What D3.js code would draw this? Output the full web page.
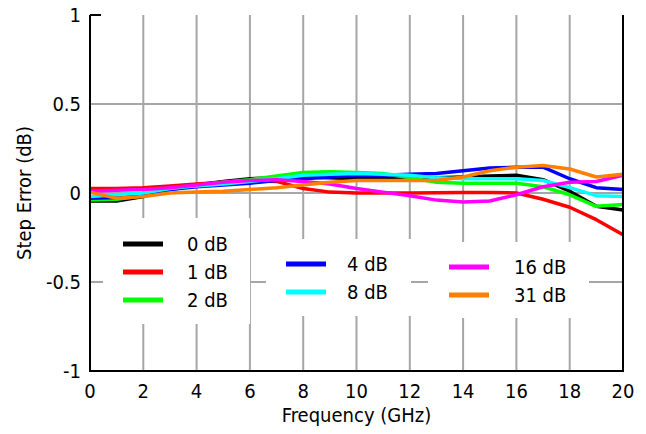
<!DOCTYPE html>
<html>
<head>
<meta charset="utf-8">
<script src="https://cdn.jsdelivr.net/npm/d3@7"></script>
<style>
  body { margin: 0; background: #fff; }
  svg { display: block; }
  text { font-family: 'DejaVu Sans Condensed', 'DejaVu Sans', sans-serif; fill: #000; }
</style>
</head>
<body>
<svg id="chart" width="646" height="434"></svg>
<script>
// frequency grid (GHz)
const freq = d3.range(0, 21, 1)

// step error (dB) per attenuation state
const err0  = [-0.045,-0.045,-0.02,0.02,0.045,0.065,0.08,0.085,0.09,0.085,0.08,0.08,0.08,0.085,0.09,0.095,0.1,0.075,0.01,-0.075,-0.095]
const err1  = [0.025,0.025,0.03,0.04,0.05,0.06,0.07,0.065,0.025,0.005,0.0,0.0,0.0,0.002,0.003,0.003,0.0,-0.035,-0.08,-0.15,-0.235]
const err2  = [-0.04,-0.035,-0.015,0.02,0.04,0.06,0.075,0.095,0.115,0.12,0.115,0.11,0.085,0.06,0.055,0.055,0.055,0.035,-0.01,-0.075,-0.065]
const err4  = [-0.03,-0.025,-0.005,0.02,0.035,0.045,0.055,0.07,0.08,0.09,0.1,0.1,0.105,0.11,0.125,0.14,0.145,0.145,0.08,0.03,0.02]
const err8  = [-0.02,-0.01,0.0,0.025,0.04,0.05,0.065,0.08,0.1,0.105,0.11,0.105,0.1,0.085,0.08,0.08,0.08,0.07,0.03,-0.015,-0.02]
const err16 = [0.01,0.015,0.02,0.03,0.045,0.06,0.07,0.075,0.065,0.05,0.025,0.005,-0.015,-0.04,-0.05,-0.045,-0.01,0.035,0.06,0.065,0.1]
const err31 = [0.005,-0.03,-0.02,0.0,0.005,0.01,0.02,0.03,0.045,0.06,0.07,0.07,0.07,0.07,0.09,0.125,0.145,0.155,0.135,0.09,0.105]

const seriesNames = ['0 dB', '1 dB', '2 dB', '4 dB', '8 dB', '16 dB', '31 dB']
const seriesVals = [err0, err1, err2, err4, err8, err16, err31]
const seriesColors = ['#000000', '#ff0000', '#00ff00', '#0000ff', '#00ffff', '#ff00ff', '#ff8000']

const xTicks = d3.range(0, 21, 2)
const yTicks = [-1, -0.5, 0, 0.5, 1]

// legend groups: which series go in which box
const legendGroups = [[0, 1, 2], [3, 4], [5, 6]]

const svg = d3.select('#chart')
const margin = { top: 15, left: 90, right: 23, bottom: 63 }
const width = 646, height = 434
const innerWidth = width - margin.left - margin.right
const innerHeight = height - margin.top - margin.bottom

const xScale = d3.scaleLinear().domain([0, 20]).range([0, innerWidth])
const yScale = d3.scaleLinear().domain([-1, 1]).range([innerHeight, 0])

const g = svg.append('g').attr('transform', `translate(${margin.left},${margin.top})`)

// grid lines
g.append('g').selectAll('line.vg')
  .data(xTicks.filter(t => t > 0 && t < 20))
  .enter().append('line')
  .attr('x1', d => xScale(d)).attr('x2', d => xScale(d))
  .attr('y1', 0).attr('y2', innerHeight)
  .style('stroke', '#a6a6a6').style('stroke-width', 2)

g.append('g').selectAll('line.hg')
  .data(yTicks.filter(t => t > -1 && t < 1))
  .enter().append('line')
  .attr('x1', 0).attr('x2', innerWidth)
  .attr('y1', d => yScale(d)).attr('y2', d => yScale(d))
  .style('stroke', '#a6a6a6').style('stroke-width', 2)

// curves
const line = d3.line()
  .x((d, i) => xScale(freq[i]))
  .y(d => yScale(d))

const drawOrder = [0, 1, 2, 3, 4, 5, 6]
g.append('g').selectAll('path')
  .data(drawOrder)
  .enter().append('path')
  .attr('d', i => line(seriesVals[i]))
  .style('fill', 'none')
  .style('stroke', i => seriesColors[i])
  .style('stroke-width', 3.5)
  .style('stroke-linejoin', 'round')

// legend boxes (white, hide the grid)
const legendBoxes = [
  { x: 13, y: 203, w: 147, h: 106, ly: 229, lx: 33, tx: 97 },
  { x: 176, y: 224, w: 145, h: 77, ly: 249, lx: 196, tx: 257 },
  { x: 338, y: 227, w: 161, h: 76, ly: 252, lx: 359, tx: 424 }
]

legendGroups.forEach((grp, gi) => {
  const b = legendBoxes[gi]
  const lg = g.append('g')
  lg.append('rect')
    .attr('x', b.x).attr('y', b.y).attr('width', b.w).attr('height', b.h)
    .style('fill', '#fff')
  grp.forEach((si, k) => {
    const yy = b.ly + k * 28
    lg.append('line')
      .attr('x1', b.lx).attr('x2', b.lx + 40)
      .attr('y1', yy).attr('y2', yy)
      .style('stroke', seriesColors[si]).style('stroke-width', 5)
    lg.append('text')
      .attr('x', b.tx).attr('y', yy)
      .attr('dy', '0.36em')
      .style('font-size', '20px')
      .text(seriesNames[si])
  })
})

// frame: left, bottom, right
g.append('line').attr('x1', 0).attr('x2', 0).attr('y1', 0).attr('y2', innerHeight)
  .style('stroke', '#000').style('stroke-width', 2)
g.append('line').attr('x1', -1).attr('x2', innerWidth + 1).attr('y1', innerHeight).attr('y2', innerHeight)
  .style('stroke', '#000').style('stroke-width', 2)
g.append('line').attr('x1', innerWidth).attr('x2', innerWidth).attr('y1', 0).attr('y2', innerHeight)
  .style('stroke', '#000').style('stroke-width', 2)

// end ticks
g.append('line').attr('x1', 0).attr('x2', 11).attr('y1', yScale(1)).attr('y2', yScale(1))
  .style('stroke', '#000').style('stroke-width', 2)
g.append('line').attr('x1', 0).attr('x2', 11).attr('y1', yScale(-1)).attr('y2', yScale(-1))
  .style('stroke', '#000').style('stroke-width', 2)
g.append('line').attr('x1', xScale(0)).attr('x2', xScale(0)).attr('y1', innerHeight).attr('y2', innerHeight - 11)
  .style('stroke', '#000').style('stroke-width', 2)
g.append('line').attr('x1', xScale(20)).attr('x2', xScale(20)).attr('y1', innerHeight).attr('y2', innerHeight - 11)
  .style('stroke', '#000').style('stroke-width', 2)

// tick labels
g.append('g').selectAll('text')
  .data(yTicks)
  .enter().append('text')
  .attr('x', -9).attr('y', d => yScale(d))
  .attr('dy', '0.36em')
  .style('text-anchor', 'end')
  .style('font-size', '20px')
  .text(d => String(d))

g.append('g').selectAll('text')
  .data(xTicks)
  .enter().append('text')
  .attr('x', d => xScale(d)).attr('y', innerHeight + 27)
  .style('text-anchor', 'middle')
  .style('font-size', '20px')
  .text(d => d)

g.append('text')
  .attr('x', innerWidth / 2).attr('y', innerHeight + 51)
  .style('text-anchor', 'middle')
  .style('font-size', '20px')
  .text('Frequency (GHz)')

g.append('text')
  .attr('transform', 'rotate(-90)')
  .attr('x', -yScale(0)).attr('y', -59)
  .style('text-anchor', 'middle')
  .style('font-size', '20px')
  .text('Step Error (dB)')
</script>
</body>
</html>
